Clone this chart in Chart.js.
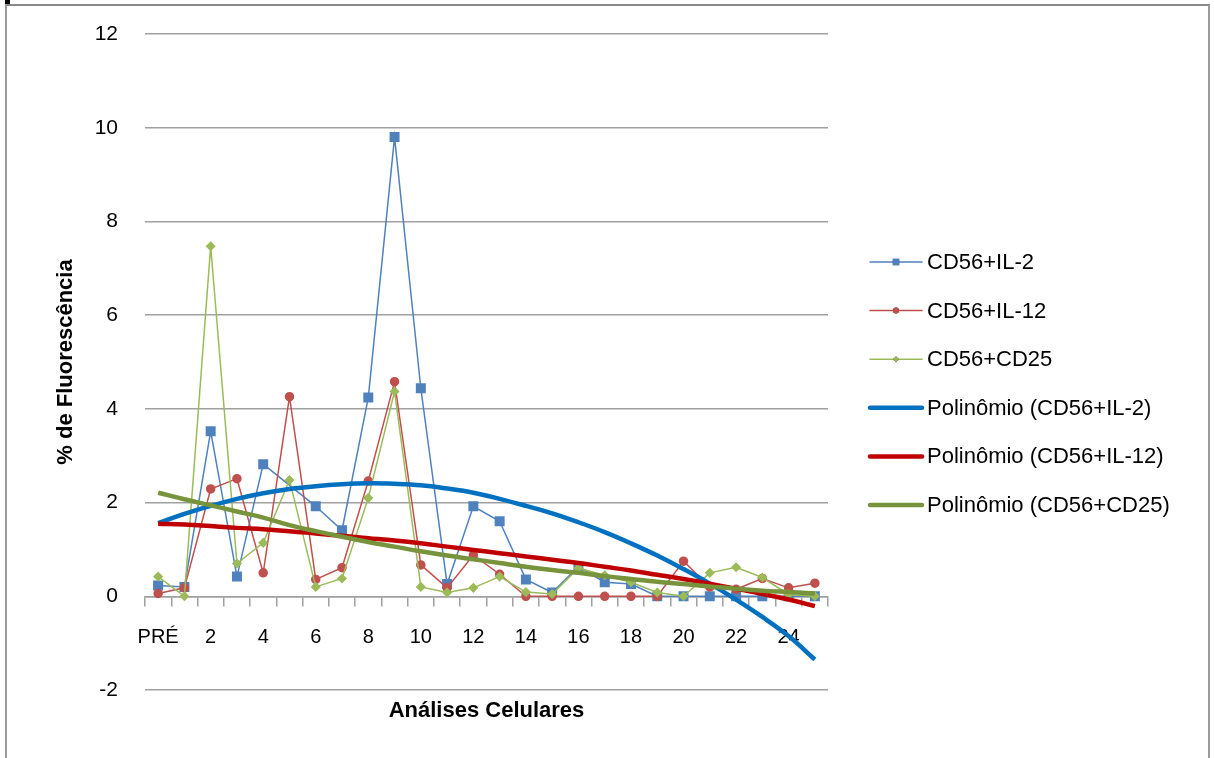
<!DOCTYPE html>
<html>
<head>
<meta charset="utf-8">
<script src="https://cdn.jsdelivr.net/npm/chart.js@4/dist/chart.umd.min.js"></script>
<style>
  body { margin: 0; background: #fff; }
  #frame { position: absolute; left: 5px; top: 4px; width: 1201px; height: 760px;
           border-left: 2px solid #9a9a9a; border-top: 2px solid #8a8a8a; border-right: 2px solid #9a9a9a; }
  #mark { position: absolute; left: 5px; top: 0; width: 5px; height: 4px; background: #000; }
  #wrap { position: absolute; left: 0; top: 0; width: 1214px; height: 758px; }
</style>
</head>
<body>
<div id="frame"></div>
<div id="mark"></div>
<div id="wrap"><canvas id="grafico" width="1214" height="758"></canvas></div>
<script>
// categorias (análises)
const categorias = ['PRÉ', '1', '2', '3', '4', '5', '6', '7', '8', '9', '10', '11', '12',
                    '13', '14', '15', '16', '17', '18', '19', '20', '21', '22', '23', '24', '25'];

// séries medidas
const cd56Il2  = [0.23, 0.2, 3.52, 0.42, 2.82, null, 1.92, 1.41, 4.24, 9.8, 4.44, 0.26, 1.92,
                  1.6, 0.36, 0.08, 0.63, 0.3, 0.26, 0, 0, 0, 0, 0, 0, 0];
const cd56Il12 = [0.06, 0.18, 2.29, 2.51, 0.5, 4.26, 0.36, 0.61, 2.46, 4.58, 0.67, 0.18, 0.88,
                  0.47, 0, 0, 0, 0, 0, 0, 0.75, 0.2, 0.15, 0.38, 0.18, 0.28];
const cd56Cd25 = [0.42, 0, 7.47, 0.7, 1.14, 2.48, 0.2, 0.38, 2.1, 4.37, 0.2, 0.08, 0.18,
                  0.42, 0.09, 0.05, 0.6, 0.45, 0.3, 0.08, 0, 0.5, 0.62, 0.4, 0.04, 0];

// linhas de tendência
const polIl2  = [1.56, 1.76, 1.93, 2.08, 2.2, 2.29, 2.35, 2.39, 2.41, 2.4, 2.37, 2.3, 2.21,
                 2.08, 1.93, 1.77, 1.58, 1.37, 1.13, 0.87, 0.58, 0.27, -0.07, -0.44, -0.85, -1.35];
const polIl12 = [1.55, 1.53, 1.5, 1.46, 1.43, 1.39, 1.34, 1.29, 1.24, 1.19, 1.13, 1.06, 0.99,
                 0.92, 0.85, 0.78, 0.71, 0.63, 0.55, 0.46, 0.37, 0.27, 0.16, 0.05, -0.07, -0.21];
const polCd25 = [2.21, 2.07, 1.94, 1.81, 1.68, 1.52, 1.39, 1.27, 1.16, 1.06, 0.96, 0.87, 0.79,
                 0.71, 0.63, 0.56, 0.5, 0.43, 0.37, 0.31, 0.26, 0.21, 0.16, 0.12, 0.09, 0.06];

const yTicks = [-2, 0, 2, 4, 6, 8, 10, 12];

const fonte = 'Liberation Sans, Arial, sans-serif';

// legenda desenhada à direita
const legendaPlugin = {
    id: 'legenda',
    afterDraw(chart) {
        const ctx = chart.ctx;
        const x0 = 870, x1 = 922, xt = 927;
        const y0 = 262, passo = 48.6;
        ctx.save();
        chart.data.datasets.forEach((ds, i) => {
            const y = y0 + i * passo;
            ctx.strokeStyle = ds.borderColor;
            ctx.lineWidth = ds.borderWidth;
            ctx.lineCap = 'round';
            ctx.beginPath();
            ctx.moveTo(x0, y);
            ctx.lineTo(x1, y);
            ctx.stroke();
            if (ds.pointRadius > 0) {
                Chart.helpers.drawPoint(ctx, {pointStyle: ds.pointStyle, radius: ds.pointRadius * 0.75, rotation: 0, borderWidth: 0},
                    (x0 + x1) / 2, y);
                ctx.fillStyle = ds.pointBackgroundColor;
                ctx.fill();
            }
            ctx.fillStyle = '#000';
            ctx.font = '22px ' + fonte;
            ctx.textBaseline = 'middle';
            ctx.textAlign = 'left';
            ctx.fillText(ds.label, xt, y + 1);
        });
        ctx.restore();
    }
};

const ctx = document.getElementById('grafico').getContext('2d');
new Chart(ctx, {
    type: 'line',
    data: {
        labels: categorias,
        datasets: [
            { label: 'CD56+IL-2', data: cd56Il2, borderColor: '#4F81BD', backgroundColor: '#4F81BD',
              pointBackgroundColor: '#4F81BD', pointBorderColor: '#4F81BD', pointStyle: 'rect',
              pointRadius: 6, borderWidth: 1.5, spanGaps: true, order: 5 },
            { label: 'CD56+IL-12', data: cd56Il12, borderColor: '#C0504D', backgroundColor: '#C0504D',
              pointBackgroundColor: '#C0504D', pointBorderColor: '#C0504D', pointStyle: 'circle',
              pointRadius: 4, borderWidth: 1.5, order: 4 },
            { label: 'CD56+CD25', data: cd56Cd25, borderColor: '#9BBB59', backgroundColor: '#9BBB59',
              pointBackgroundColor: '#9BBB59', pointBorderColor: '#9BBB59', pointStyle: 'rectRot',
              pointRadius: 4, borderWidth: 1.5, order: 3 },
            { label: 'Polinômio (CD56+IL-2)', data: polIl2, borderColor: '#0070C0',
              pointRadius: 0, borderWidth: 4.5, tension: 0.4, order: 2 },
            { label: 'Polinômio (CD56+IL-12)', data: polIl12, borderColor: '#C00000',
              pointRadius: 0, borderWidth: 4.5, tension: 0.4, order: 1 },
            { label: 'Polinômio (CD56+CD25)', data: polCd25, borderColor: '#77933C',
              pointRadius: 0, borderWidth: 4.5, tension: 0.4, order: 0 }
        ]
    },
    options: {
        responsive: false,
        animation: false,
        layout: { padding: { left: 0, right: 386, top: 34, bottom: 68 } },
        plugins: {
            legend: { display: false },
            tooltip: { enabled: false }
        },
        scales: {
            x: {
                type: 'category',
                position: { y: 0 },
                offset: true,
                grid: { offset: true, drawOnChartArea: false, drawTicks: true, tickLength: 9,
                        color: '#a0a0a0', lineWidth: 1.5 },
                border: { display: true, color: '#a0a0a0', width: 1.5 },
                ticks: {
                    autoSkip: false, maxRotation: 0, padding: 20, color: '#000',
                    font: { family: fonte, size: 20 },
                    callback: function(v, i) { return i % 2 === 0 ? categorias[i] : ''; }
                },
                title: { display: true, text: 'Análises Celulares', color: '#000',
                         font: { family: fonte, size: 22, weight: 'bold' }, padding: { top: 28, bottom: 0 } }
            },
            y: {
                min: -2, max: 12,
                afterBuildTicks: function(s) { s.ticks = yTicks.map(v => ({ value: v })); },
                afterFit: function(s) { s.width = 145; s.paddingTop = 0; s.paddingBottom = 0; },
                grid: { color: '#a0a0a0', lineWidth: 1.5, drawTicks: false },
                border: { display: false },
                ticks: { padding: 27, color: '#000', font: { family: fonte, size: 21 } },
                title: { display: true, text: '% de Fluorescência', color: '#000',
                         font: { family: fonte, size: 22, weight: 'bold' }, padding: { top: 53, bottom: 0 } }
            }
        }
    },
    plugins: [legendaPlugin]
});
</script>
</body>
</html>
